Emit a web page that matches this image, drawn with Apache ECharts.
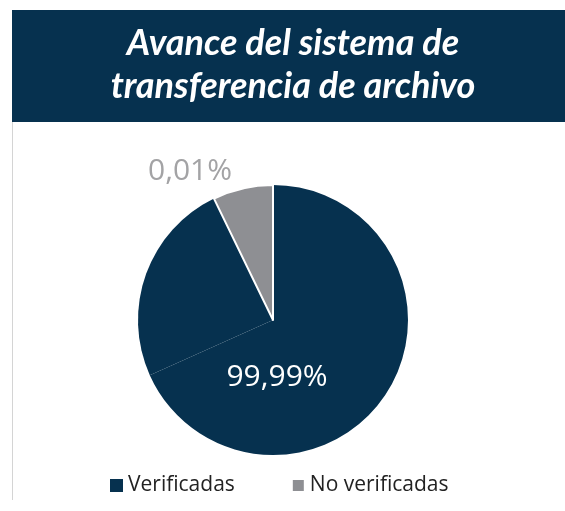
<!DOCTYPE html>
<html>
<head>
<meta charset="utf-8">
<script src="https://cdn.jsdelivr.net/npm/echarts@6/dist/echarts.min.js"></script>
<style>
  html, body { margin: 0; padding: 0; background: #fff; }
  #chart { width: 565px; height: 511px; }
</style>
</head>
<body>
<div id="chart"></div>
<script>
// datos del grafico
var categories = ['Verificadas', 'Verificadas', 'No verificadas'];
var sliceShares = [68.3, 24.5, 7.2];          // proporcion visual de cada porcion
var labelTexts = ['99,99%', '', '0,01%'];       // etiquetas impresas
var legendNames = ['Verificadas', 'No verificadas'];
var sliceColors = ['#06314f', '#06314f', '#8e8f93'];

var navy = '#06314f';
var chart = echarts.init(document.getElementById('chart'));

var pieData = [];
for (var i = 0; i < categories.length; i++) {
    pieData.push({
        name: categories[i],
        value: sliceShares[i],
        itemStyle: {
            color: sliceColors[i],
            borderColor: i === 2 ? '#fff' : sliceColors[i],
            borderWidth: i === 2 ? 2 : 0
        },
        label: {
            show: labelTexts[i] !== '',
            formatter: labelTexts[i],
            position: i === 2 ? 'outside' : 'center',
            color: i === 2 ? '#a3a3a5' : '#fff',
            fontSize: 30,
            fontFamily: 'Open Sans'
        },
        labelLine: { show: false }
    });
}

chart.setOption({
    animation: false,
    title: {
        text: 'Avance del sistema de\ntransferencia de archivo',
        left: 288,
        top: 17,
        textAlign: 'center',
        textStyle: {
            color: '#fff',
            fontFamily: 'Lato',
            fontStyle: 'italic',
            fontWeight: 'bold',
            fontSize: 36,
            lineHeight: 43
        }
    },
    graphic: [
        { type: 'rect', z: -1, shape: { x: 12, y: 10, width: 553, height: 112 }, style: { fill: navy } },
        { type: 'line', shape: { x1: 12.5, y1: 122, x2: 12.5, y2: 500 }, style: { stroke: '#d4d4d4', lineWidth: 1 } }
    ],
    legend: {
        data: legendNames,
        left: 105,
        top: 470,
        itemWidth: 13,
        itemHeight: 13,
        itemGap: 56,
        icon: 'rect',
        selectedMode: false,
        textStyle: { color: '#222', fontSize: 21, fontFamily: 'Open Sans' }
    },
    series: [{
        type: 'pie',
        center: [273, 320],
        radius: [0, 135],
        startAngle: 90,
        clockwise: true,
        data: pieData,
        labelLayout: function (params) {
            if (params.dataIndex === 0) {
                return { dx: 4, dy: 57 };
            }
            if (params.dataIndex === 2) {
                return { x: 190, y: 171, align: 'center', verticalAlign: 'middle' };
            }
        }
    }]
});
</script>
</body>
</html>
